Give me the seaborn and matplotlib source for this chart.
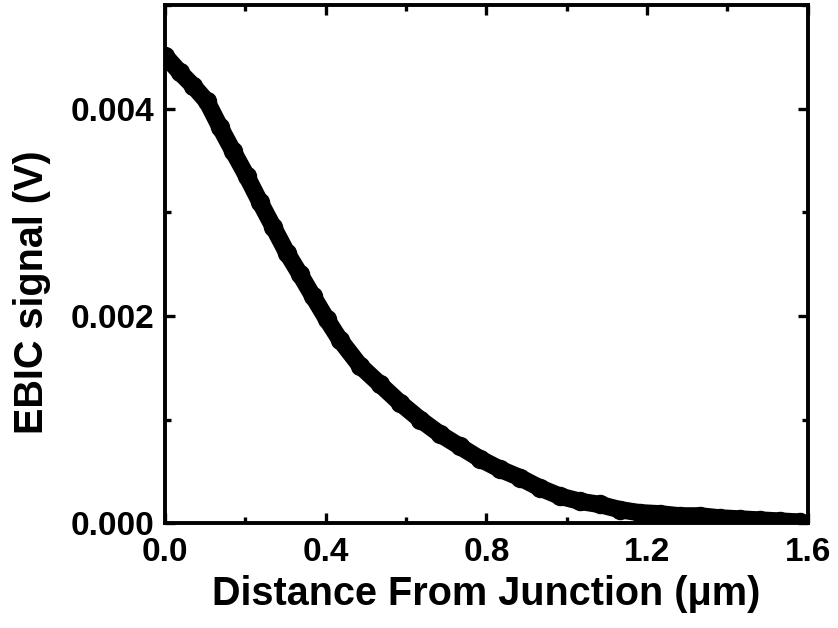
import matplotlib
matplotlib.use("Agg")
import matplotlib.pyplot as plt
from matplotlib.ticker import MultipleLocator, FormatStrFormatter
import seaborn as sns
import pandas as pd

# EBIC line scan: distance from the junction (um) and signal (V)
distance_um = [0.000, 0.037, 0.070, 0.104, 0.137, 0.169, 0.203, 0.236, 0.269,
               0.303, 0.336, 0.368, 0.402, 0.435, 0.485, 0.535, 0.585, 0.635,
               0.684, 0.734, 0.784, 0.834, 0.883, 0.933, 0.983, 1.033, 1.082,
               1.132, 1.182, 1.232, 1.281, 1.331, 1.381, 1.431, 1.480, 1.530,
               1.580]
ebic_signal_v = [0.00451, 0.00435, 0.00422, 0.00407, 0.00382, 0.00359, 0.00335,
                 0.00310, 0.00286, 0.00261, 0.00240, 0.00219, 0.00197, 0.00177,
                 0.00152, 0.00134, 0.00116, 0.00100, 0.00086, 0.00074, 0.00062,
                 0.00052, 0.00044, 0.00034, 0.00026, 0.00021, 0.00018, 0.00013,
                 0.00010, 0.00009, 0.00007, 0.00007, 0.00005, 0.00004, 0.00003,
                 0.00002, 0.00001]

x_ticks = [0.0, 0.4, 0.8, 1.2, 1.6]
y_ticks = [0.000, 0.002, 0.004]

df = pd.DataFrame({"distance": distance_um, "signal": ebic_signal_v})

sns.set_style("ticks")
plt.rcParams["font.family"] = ["Liberation Sans", "DejaVu Sans"]
plt.rcParams["font.weight"] = "bold"
for key in ["text.color", "axes.labelcolor", "xtick.color", "ytick.color",
            "axes.edgecolor"]:
    plt.rcParams[key] = "black"

fig = plt.figure(figsize=(8.38, 6.28), dpi=100)
ax = fig.add_axes([0.197, 0.167, 0.767, 0.825])

sns.lineplot(data=df, x="distance", y="signal", ax=ax, color="black",
             linewidth=12.5, marker="o", markersize=14, markeredgewidth=0,
             solid_capstyle="round", solid_joinstyle="round", clip_on=True)

ax.set_xlim(0.0, 1.6)
ax.set_ylim(0.0, 0.005)
ax.set_xticks(x_ticks)
ax.set_yticks(y_ticks)
ax.xaxis.set_minor_locator(MultipleLocator(0.2))
ax.yaxis.set_minor_locator(MultipleLocator(0.001))
ax.xaxis.set_major_formatter(FormatStrFormatter("%.1f"))
ax.yaxis.set_major_formatter(FormatStrFormatter("%.3f"))

ax.tick_params(which="both", direction="in", top=True, right=True,
               width=2.4, color="black", labelcolor="black")
ax.tick_params(which="major", length=7, labelsize=24)
ax.tick_params(axis="x", which="major", pad=10)
ax.tick_params(axis="y", which="major", pad=8)
ax.tick_params(which="minor", length=4.5)
for lbl in ax.get_xticklabels() + ax.get_yticklabels():
    lbl.set_fontweight("bold")

for side in ["left", "right", "top", "bottom"]:
    ax.spines[side].set_visible(True)
    ax.spines[side].set_linewidth(2.8)
    ax.spines[side].set_color("black")

ax.set_xlabel("Distance From Junction (\u03bcm)", fontsize=28.5,
              fontweight="bold", labelpad=5)
ax.set_ylabel("EBIC signal (V)", fontsize=28.5, fontweight="bold")
ax.yaxis.set_label_coords(-0.177, 0.445)

fig.savefig("out.png", dpi=100, facecolor="white")
